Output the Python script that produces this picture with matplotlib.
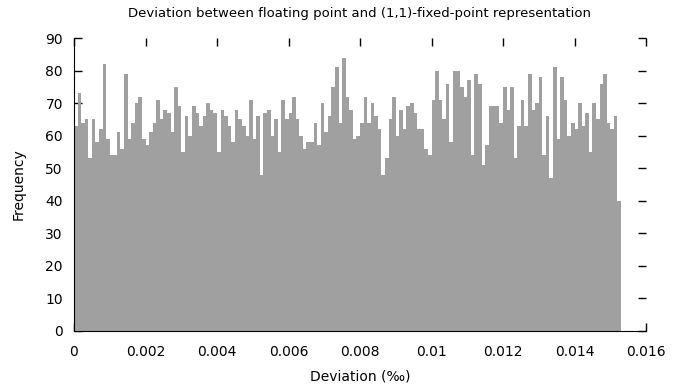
import numpy as np
import matplotlib
matplotlib.use("Agg")
import matplotlib.pyplot as plt
from matplotlib.ticker import FuncFormatter

# histogram counts, bin width 0.0001 starting at 0
BIN_WIDTH = 0.0001
counts = [
    63, 73, 64, 65, 53, 65, 58, 62, 82, 59,
    54, 54, 61, 56, 79, 59, 64, 70, 72, 59,
    57, 61, 64, 71, 65, 68, 67, 61, 75, 69,
    55, 66, 60, 69, 67, 63, 66, 70, 68, 67,
    55, 68, 66, 63, 58, 68, 65, 63, 60, 71,
    59, 66, 48, 67, 68, 60, 65, 55, 71, 65,
    67, 72, 65, 60, 56, 58, 58, 64, 57, 70,
    61, 66, 75, 81, 64, 84, 72, 68, 59, 60,
    64, 72, 64, 70, 66, 62, 48, 53, 65, 72,
    60, 68, 62, 69, 70, 67, 62, 62, 56, 54,
    71, 80, 71, 65, 76, 58, 80, 80, 75, 72,
    77, 54, 79, 76, 51, 57, 69, 69, 69, 64,
    75, 68, 75, 53, 63, 71, 63, 79, 68, 70,
    78, 54, 66, 47, 81, 59, 78, 71, 60, 64,
    62, 70, 63, 67, 55, 70, 65, 76, 79, 64,
    62, 66, 40,
]
xticks = [0, 0.002, 0.004, 0.006, 0.008, 0.01, 0.012, 0.014, 0.016]
yticks = list(range(0, 91, 10))

title = "Deviation between floating point and (1,1)-fixed-point representation"
xlabel = "Deviation (‰)"
ylabel = "Frequency"

plt.rcParams["font.family"] = ["DejaVu Sans"]
plt.rcParams["font.size"] = 10

fig = plt.figure(figsize=(6.93, 3.91), dpi=100)
ax = fig.add_axes([74 / 693, 1 - 331 / 391, 572 / 693, 293 / 391])

# one filled step outline -> no hairline gaps between neighbouring bins
edges = np.arange(len(counts) + 1) * BIN_WIDTH
ax.stairs(counts, edges, fill=True, color="#a0a0a0", linewidth=0, zorder=1)
ax.set_axisbelow(True)

ax.set_xlim(0, 0.016)
ax.set_ylim(0, 90)
ax.set_xticks(xticks)
ax.set_yticks(yticks)
ax.xaxis.set_major_formatter(FuncFormatter(lambda v, p: f"{v:g}"))

ax.tick_params(direction="in", length=6, width=1, top=True, right=True,
               labelsize=10)
ax.tick_params(axis="x", pad=10)
ax.tick_params(axis="y", pad=8)
ax.spines["top"].set_visible(False)
ax.spines["right"].set_visible(False)
ax.spines["left"].set_zorder(3)
ax.spines["bottom"].set_zorder(3)

ax.set_title(title, fontsize=9.5, pad=15)
ax.set_xlabel(xlabel, fontsize=10, labelpad=8)
ax.set_ylabel(ylabel, fontsize=10, labelpad=14)

fig.savefig("out.png", dpi=100)
